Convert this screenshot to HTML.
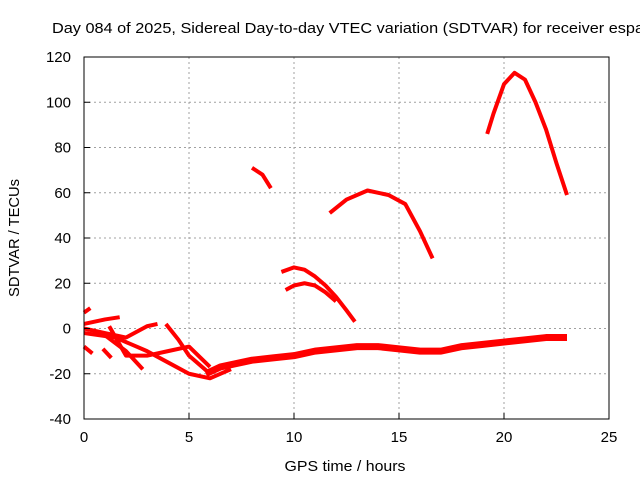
<!DOCTYPE html>
<html><head><meta charset="utf-8"><style>
body{margin:0;background:#fff}
svg text{font-family:"Liberation Sans",sans-serif;font-size:15px;fill:#000}
</style></head><body>
<svg id="chart" width="640" height="480">
<text x="52" y="33" textLength="592" lengthAdjust="spacingAndGlyphs">Day 084 of 2025, Sidereal Day-to-day VTEC variation (SDTVAR) for receiver espa</text>
<g id="grid"></g>
<g id="marks"></g>
<rect x="84" y="57" width="525" height="362" fill="none" stroke="#000" stroke-width="1"/>
<g id="ticks"></g>
<text x="345" y="471" text-anchor="middle" textLength="121" lengthAdjust="spacingAndGlyphs">GPS time / hours</text>
<text transform="translate(19,238) rotate(-90)" text-anchor="middle" textLength="118" lengthAdjust="spacingAndGlyphs">SDTVAR / TECUs</text>
</svg>
<script>
const xTicks=[0,5,10,15,20,25];
const yTicks=[-40,-20,0,20,40,60,80,100,120];
const seriesMain=[[5.8,-20],[6.5,-17],[7,-16],[8,-14],[9,-13],[10,-12],[11,-10],[12,-9],[13,-8],[14,-8],[15,-9],[16,-10],[17,-10],[18,-8],[19,-7],[20,-6],[21,-5],[22,-4],[23,-4]];
const seriesArcHigh=[[19.2,86],[19.5,95],[20,108],[20.5,113],[21,110],[21.5,100],[22,88],[22.5,73],[23,59]];
const seriesArcMid=[[11.7,51],[12.5,57],[13.5,61],[14.5,59],[15.3,55],[16,43],[16.6,31]];
const seriesShort=[[8,71],[8.5,68],[8.9,62]];
const seriesArcLowA=[[9.4,25],[10,27],[10.5,26],[11,23],[11.5,19],[12,14],[12.5,8],[12.9,3]];
const seriesArcLowB=[[9.6,17],[10,19],[10.5,20],[11,19],[11.5,16],[12,12]];
const seriesEarly=[
 [[0,2],[0.5,3],[1,4],[1.7,5]],
 [[0,0],[1,-2],[2,-4],[3,1],[3.5,2]],
 [[0,7],[0.3,9]],
 [[0,-8],[0.4,-11]],
 [[0.9,-9],[1.3,-13]],
 [[1,-3],[2,-10],[2.8,-18]],
 [[1.2,1],[2,-12],[3,-12],[4,-10],[5,-8],[6,-17]],
 [[3.9,2],[4.5,-5],[5,-12],[6,-20]],
 [[0,-2],[1.5,-4],[2.5,-8],[3,-10],[4,-15],[5,-20],[6,-22],[7,-18]]
];
const NS="http://www.w3.org/2000/svg";
const X0=84,X1=609,Y0=419,Y1=57;
function sx(v){return X0+(v-0)/25*(X1-X0);}
function sy(v){return Y0-(v+40)/160*(Y0-Y1);}
const grid=document.getElementById('grid'),ticks=document.getElementById('ticks'),marks=document.getElementById('marks');
function mk(tag,attrs,parent){const e=document.createElementNS(NS,tag);for(const k in attrs)e.setAttribute(k,attrs[k]);parent.appendChild(e);return e;}
xTicks.forEach(t=>{
 const x=sx(t);
 if(t>0&&t<25){const l=mk('line',{x1:x,x2:x,y1:Y1,y2:Y0,stroke:'#a0a0a0','stroke-dasharray':'2,3'},grid);
 
 }
 mk('line',{x1:x,x2:x,y1:Y0,y2:Y0-6,stroke:'#000'},ticks);
 const tx=mk('text',{x:x,y:Y0+23,'text-anchor':'middle'},ticks);tx.textContent=t;
 
 
});
yTicks.forEach(t=>{
 const y=sy(t);
 if(t>-40&&t<120){const l=mk('line',{x1:X0,x2:X1,y1:y,y2:y,stroke:'#a0a0a0','stroke-dasharray':'2,3'},grid);
 
 }
 mk('line',{x1:X0,x2:X0+6,y1:y,y2:y,stroke:'#000'},ticks);
 const tx=mk('text',{x:X0-13,y:y+5,'text-anchor':'end'},ticks);tx.textContent=t;
 
 
});
function draw(pts,name,w){
 const p=mk('polyline',{points:pts.map(d=>sx(d[0])+','+sy(d[1])).join(' '),fill:'none',stroke:'#ff0000','stroke-width':w,'stroke-linejoin':'round','stroke-linecap':'butt'},marks);
 
 
}
draw(seriesMain,'series-main-band',7);
draw(seriesArcHigh,'series-arc-high',4);
draw(seriesArcMid,'series-arc-mid',4);
draw(seriesShort,'series-short',4);
draw(seriesArcLowA,'series-arc-low-a',4);
draw(seriesArcLowB,'series-arc-low-b',4);
seriesEarly.forEach(s=>draw(s,'series-early',4));
</script>
</body></html>
